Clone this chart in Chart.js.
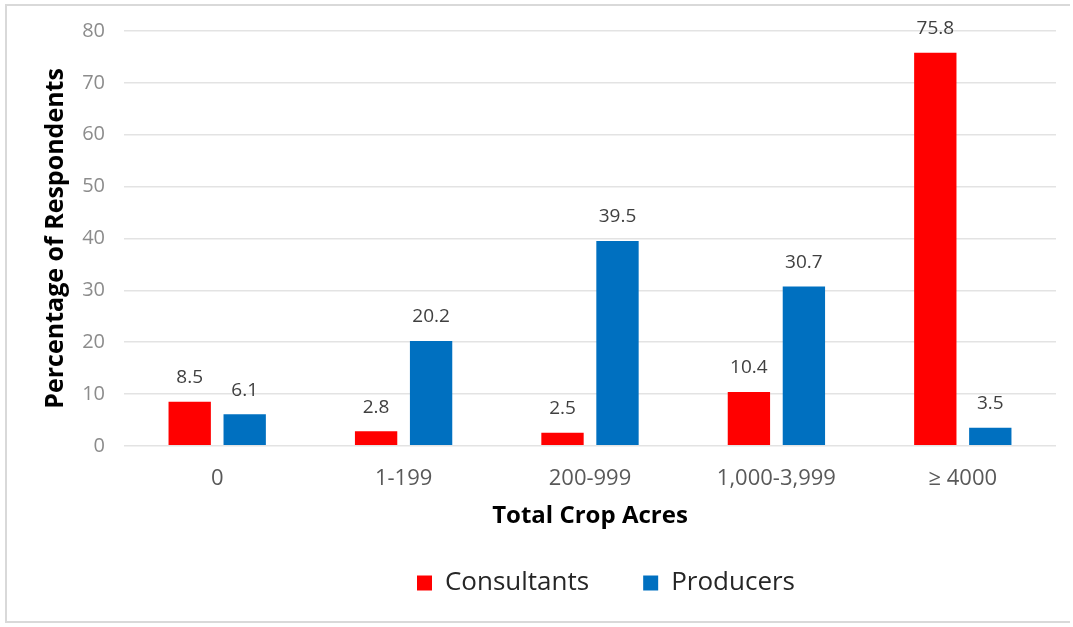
<!DOCTYPE html>
<html>
<head>
<meta charset="utf-8">
<script src="https://cdn.jsdelivr.net/npm/chart.js@4.4.0/dist/chart.umd.min.js"></script>
<style>
  html, body { margin: 0; padding: 0; background: #fff; }
  #frame { position: absolute; left: 5px; top: 4px; width: 1063px; height: 615px; border: 2px solid #d9d9d9; border-right: none; }
  #wrap { position: absolute; left: 0; top: 0; width: 1073px; height: 627px; }
</style>
</head>
<body>
<div id="frame"></div>
<div id="wrap"><canvas id="chart"></canvas></div>
<script>
// categories and values
const categories = ['0', '1-199', '200-999', '1,000-3,999', '\u2265 4000'];
const consultants = [8.5, 2.8, 2.5, 10.4, 75.8];
const producers = [6.1, 20.2, 39.5, 30.7, 3.5];
const yTicks = [0, 10, 20, 30, 40, 50, 60, 70, 80];

const fontFam = "'Open Sans', 'Lato', sans-serif";

// draws the value above each bar
const valueLabels = {
    id: 'valueLabels',
    afterDatasetsDraw(chart) {
        const ctx = chart.ctx;
        ctx.save();
        ctx.font = '19px ' + fontFam;
        ctx.fillStyle = '#404040';
        ctx.textAlign = 'center';
        ctx.textBaseline = 'middle';
        chart.data.datasets.forEach((ds, i) => {
            chart.getDatasetMeta(i).data.forEach((bar, j) => {
                ctx.fillText(ds.data[j].toFixed(1), bar.x, bar.y - 24);
            });
        });
        ctx.restore();
    }
};

// legend in the original sits a bit right of centre and a little higher
const legendShift = {
    id: 'legendShift',
    afterLayout(chart) {
        chart.legend.left += 68;
        chart.legend.right += 68;
        chart.legend.top -= 15;
        chart.legend.bottom -= 15;
    }
};

new Chart(document.getElementById('chart'), {
    type: 'bar',
    data: {
        labels: categories,
        datasets: [
            { label: 'Consultants', data: consultants, backgroundColor: '#ff0000', barPercentage: 0.77, categoryPercentage: 0.59 },
            { label: 'Producers', data: producers, backgroundColor: '#0070c0', barPercentage: 0.77, categoryPercentage: 0.59 }
        ]
    },
    options: {
        responsive: true,
        maintainAspectRatio: false,
        animation: false,
        layout: { padding: { left: 20, right: 17, top: 24, bottom: 6 } },
        plugins: {
            tooltip: { enabled: false },
            legend: {
                position: 'bottom',
                labels: {
                    font: { size: 26, family: fontFam },
                    color: '#262626',
                    boxWidth: 15,
                    boxHeight: 15,
                    padding: 54
                }
            }
        },
        scales: {
            x: {
                grid: { display: false, drawTicks: false },
                border: { display: false },
                ticks: { font: { size: 22, family: fontFam }, color: '#595959', padding: 20 },
                title: { display: true, text: 'Total Crop Acres', font: { size: 24, weight: 'bold', family: fontFam }, color: '#000', padding: { top: -10, bottom: 0 } }
            },
            y: {
                min: 0,
                max: 80,
                afterBuildTicks(scale) { scale.ticks = yTicks.map(v => ({ value: v })); },
                afterFit(scale) { scale.width = 104; },
                grid: { color: '#e3e3e3', lineWidth: 1.5, drawTicks: false },
                border: { display: false },
                ticks: { font: { size: 20, family: fontFam }, color: '#8c8c8c', padding: 19 },
                title: { display: true, text: 'Percentage of Respondents', font: { size: 25, weight: 'bold', family: fontFam }, color: '#000', padding: { top: 21, bottom: 0 } }
            }
        }
    },
    plugins: [valueLabels, legendShift]
});
</script>
</body>
</html>
